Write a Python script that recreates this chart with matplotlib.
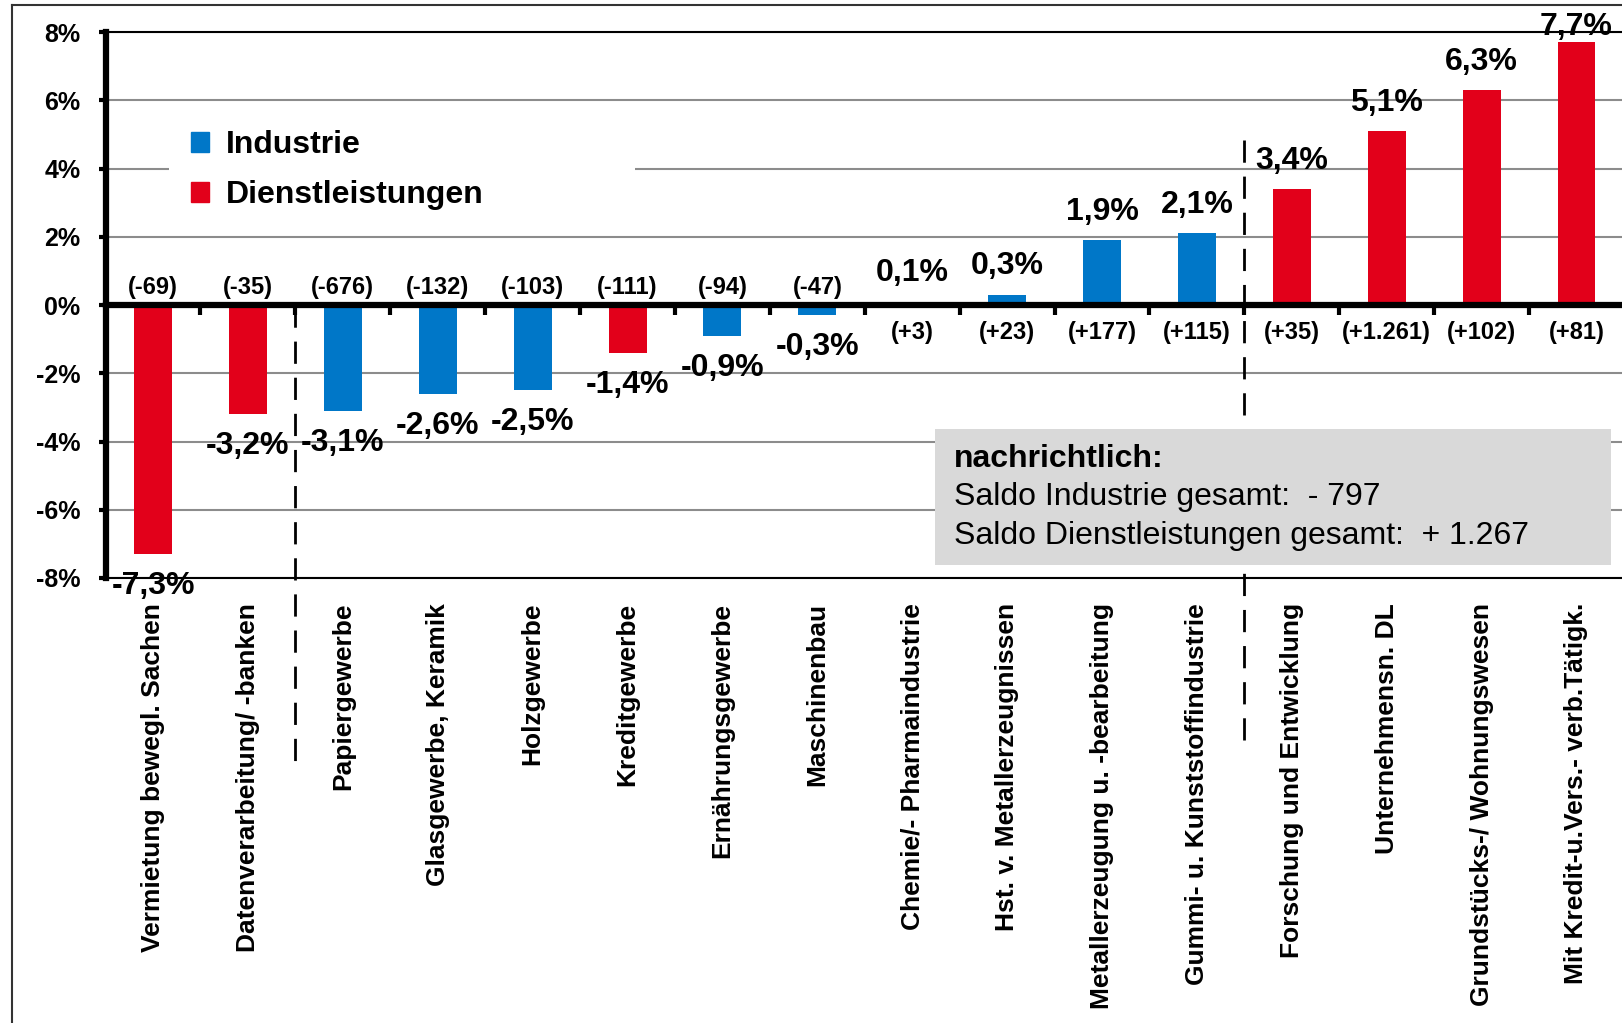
import matplotlib
matplotlib.use("Agg")
from matplotlib import pyplot as plt
from matplotlib.patches import Rectangle, Patch
from matplotlib.lines import Line2D

plt.rcParams["font.family"] = ["Liberation Sans", "DejaVu Sans"]
plt.rcParams["font.weight"] = "bold"

# Branchen, Veraenderung in %, Saldo absolut
branchen = ["Vermietung bewegl. Sachen", "Datenverarbeitung/ -banken", "Papiergewerbe",
			"Glasgewerbe, Keramik", "Holzgewerbe", "Kreditgewerbe", "Ernährungsgewerbe",
			"Maschinenbau", "Chemie/- Pharmaindustrie", "Hst. v. Metallerzeugnissen",
			"Metallerzeugung u. -bearbeitung", "Gummi- u. Kunststoffindustrie",
			"Forschung und Entwicklung", "Unternehmensn. DL", "Grundstücks-/ Wohnungswesen",
			"Mit Kredit-u.Vers.- verb.Tätigk."]
veraenderung = [-7.3, -3.2, -3.1, -2.6, -2.5, -1.4, -0.9, -0.3, 0.1, 0.3, 1.9, 2.1, 3.4, 5.1, 6.3, 7.7]
saldo = ["(-69)", "(-35)", "(-676)", "(-132)", "(-103)", "(-111)", "(-94)", "(-47)",
		 "(+3)", "(+23)", "(+177)", "(+115)", "(+35)", "(+1.261)", "(+102)", "(+81)"]
sektor = ["Dienstleistungen", "Dienstleistungen", "Industrie", "Industrie", "Industrie",
		  "Dienstleistungen", "Industrie", "Industrie", "Industrie", "Industrie", "Industrie",
		  "Industrie", "Dienstleistungen", "Dienstleistungen", "Dienstleistungen", "Dienstleistungen"]
y_ticks = [-8, -6, -4, -2, 0, 2, 4, 6, 8]
saldo_industrie = "- 797"
saldo_dienstleistungen = "+ 1.267"

farben = {"Industrie": "#0077c8", "Dienstleistungen": "#e2001a"}

fig = plt.figure(figsize=(16.22, 10.23), dpi=100)
ax = fig.add_axes([0.0651, 0.435, 0.9361, 0.5337])

x = list(range(len(branchen)))
ax.bar(x, veraenderung, width=0.4, color=[farben[s] for s in sektor], zorder=3)

ax.set_xlim(-0.5, len(branchen) - 0.5)
ax.set_ylim(-8, 8)
ax.set_yticks(y_ticks)
ax.set_yticklabels([str(t) + "%" for t in y_ticks])
ax.tick_params(axis="y", length=5, width=3, pad=13, labelsize=18)
ax.yaxis.grid(True, color="#8c8c8c", linewidth=1.5)
ax.set_axisbelow(True)

ax.set_xticks(x)
ax.set_xticklabels(branchen, rotation=90, fontsize=19, va="top")
ax.tick_params(axis="x", length=0, pad=18)

ax.spines["left"].set_linewidth(4.5)
ax.spines["top"].set_linewidth(1.5)
ax.spines["bottom"].set_linewidth(1.5)
ax.spines["right"].set_visible(False)

# Nulllinie mit Trennstrichen zwischen den Branchen
null = ax.secondary_xaxis(0.5)
null.set_alignment("bottom")
null.set_xticks([i + 0.5 for i in x[:-1]])
null.set_xticklabels([])
null.tick_params(length=7, width=3)
null.spines["bottom"].set_linewidth(4.5)
null.set_zorder(5)

# Beschriftungen (innerhalb der Zeichenflaeche gehalten, wie in Excel)
for i, v in enumerate(veraenderung):
	txt = ("%.1f" % v).replace(".", ",") + "%"
	off = 20.5 if v > 0 else -23
	ax.annotate(txt, (i, min(v, 7.3)), xytext=(0, off), textcoords="offset points",
				ha="center", va="center", fontsize=23, zorder=6)
	s_off = 12.5 if v < 0 else -20
	ax.annotate(saldo[i], (i, 0), xytext=(0, s_off), textcoords="offset points",
				ha="center", va="center", fontsize=17, zorder=6)

# gestrichelte Trennlinien
ax.plot([1.5, 1.5], [0, -13.56], color="black", lw=2, ls=(0, (8, 5)), clip_on=False, zorder=4)
ax.plot([11.5, 11.5], [4.85, -12.96], color="black", lw=2, ls=(0, (8, 5)), clip_on=False, zorder=4)

# Legende
ax.add_patch(Rectangle((0.0418, 0.635), 0.307, 0.232, transform=ax.transAxes,
					   facecolor="white", edgecolor="none", zorder=2))
handles = [Patch(color=farben["Industrie"], label="Industrie"),
		   Patch(color=farben["Dienstleistungen"], label="Dienstleistungen")]
ax.legend(handles=handles, loc="upper left", bbox_to_anchor=(0.056, 0.82), frameon=False,
		  fontsize=23, handlelength=0.56, handleheight=0.56, handletextpad=0.55,
		  labelspacing=0.62, borderaxespad=0, borderpad=0)

# Kasten nachrichtlich
ax.add_patch(Rectangle((0.546, 0.0238), 0.4454, 0.2492, transform=ax.transAxes,
					   facecolor="#d9d9d9", edgecolor="none", zorder=5))
ax.text(0.559, 0.218, "nachrichtlich:", transform=ax.transAxes, fontsize=23,
		va="center", ha="left", zorder=6)
ax.text(0.559, 0.148, "Saldo Industrie gesamt:  " + saldo_industrie, transform=ax.transAxes,
		fontsize=23, fontweight="normal", va="center", ha="left", zorder=6)
ax.text(0.559, 0.077, "Saldo Dienstleistungen gesamt:  " + saldo_dienstleistungen,
		transform=ax.transAxes, fontsize=23, fontweight="normal", va="center", ha="left", zorder=6)

# Rahmen
fig.add_artist(Line2D([12 / 1622, 12 / 1622], [0, 1 - 5 / 1023], transform=fig.transFigure,
					  color="#333333", lw=1.5))
fig.add_artist(Line2D([12 / 1622, 1], [1 - 5 / 1023, 1 - 5 / 1023], transform=fig.transFigure,
					  color="#333333", lw=1.5))

plt.savefig("out.png", dpi=100)
